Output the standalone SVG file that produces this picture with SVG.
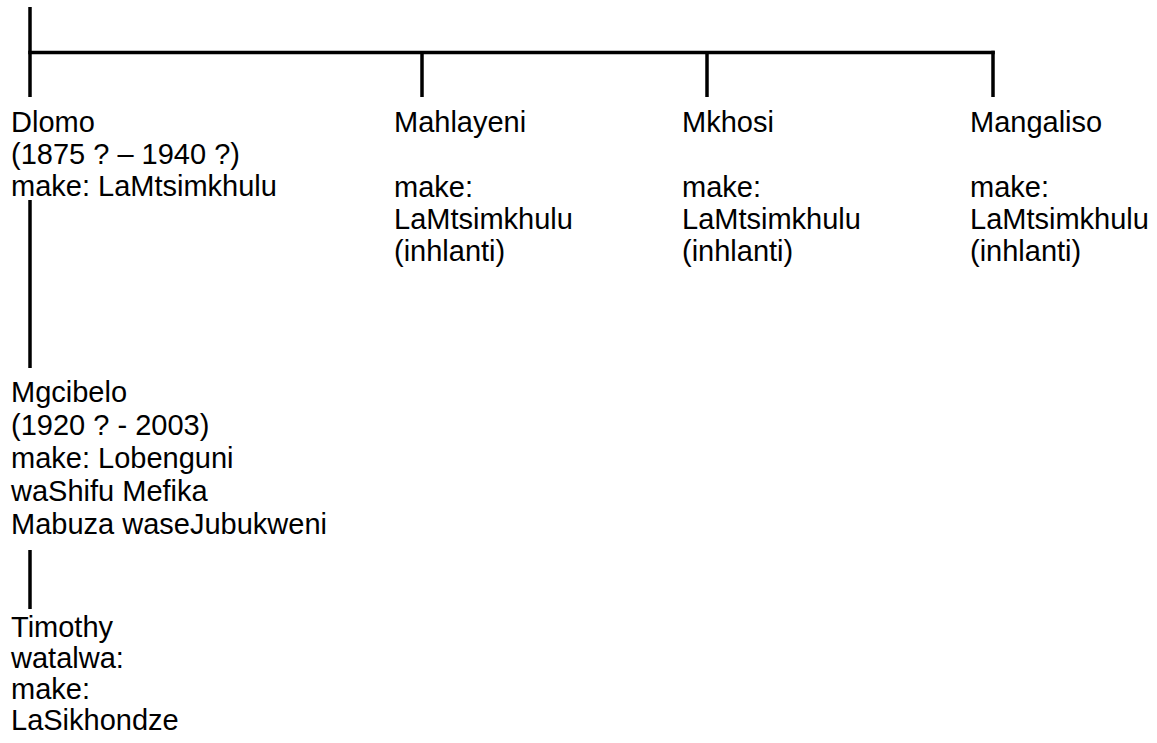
<svg xmlns="http://www.w3.org/2000/svg" width="1157" height="743" viewBox="0 0 1157 743">
<style>
.t{font-family:"Liberation Sans",Arial,sans-serif;font-size:29px;fill:#000}
.c line{stroke:#000;stroke-width:3.5;stroke-linecap:butt}
</style>
<rect width="1157" height="743" fill="#fff"/>
<g id="connectors" class="c">
<line x1="30" y1="7" x2="30" y2="97"/>
<line x1="28.25" y1="52.5" x2="994.75" y2="52.5"/>
<line x1="422" y1="52.5" x2="422" y2="97"/>
<line x1="707" y1="52.5" x2="707" y2="97"/>
<line x1="993" y1="50.75" x2="993" y2="97"/>
<line x1="30" y1="200" x2="30" y2="368"/>
<line x1="30" y1="550" x2="30" y2="609"/>
</g>
<g id="dlomo" class="t">
<text x="11" y="132">Dlomo</text>
<text x="11" y="164">(1875 ? – 1940 ?)</text>
<text x="11" y="196">make: LaMtsimkhulu</text>
</g>
<g id="mahlayeni" class="t">
<text x="394" y="132">Mahlayeni</text>
<text x="394" y="197">make:</text>
<text x="394" y="229">LaMtsimkhulu</text>
<text x="394" y="261">(inhlanti)</text>
</g>
<g id="mkhosi" class="t">
<text x="682" y="132">Mkhosi</text>
<text x="682" y="197">make:</text>
<text x="682" y="229">LaMtsimkhulu</text>
<text x="682" y="261">(inhlanti)</text>
</g>
<g id="mangaliso" class="t">
<text x="970" y="132">Mangaliso</text>
<text x="970" y="197">make:</text>
<text x="970" y="229">LaMtsimkhulu</text>
<text x="970" y="261">(inhlanti)</text>
</g>
<g id="mgcibelo" class="t">
<text x="11" y="402">Mgcibelo</text>
<text x="11" y="435">(1920 ? - 2003)</text>
<text x="11" y="468">make: Lobenguni</text>
<text x="11" y="501">waShifu Mefika</text>
<text x="11" y="534">Mabuza waseJubukweni</text>
</g>
<g id="timothy" class="t">
<text x="11" y="637">Timothy</text>
<text x="11" y="668">watalwa:</text>
<text x="11" y="699">make:</text>
<text x="11" y="730">LaSikhondze</text>
</g>
</svg>
